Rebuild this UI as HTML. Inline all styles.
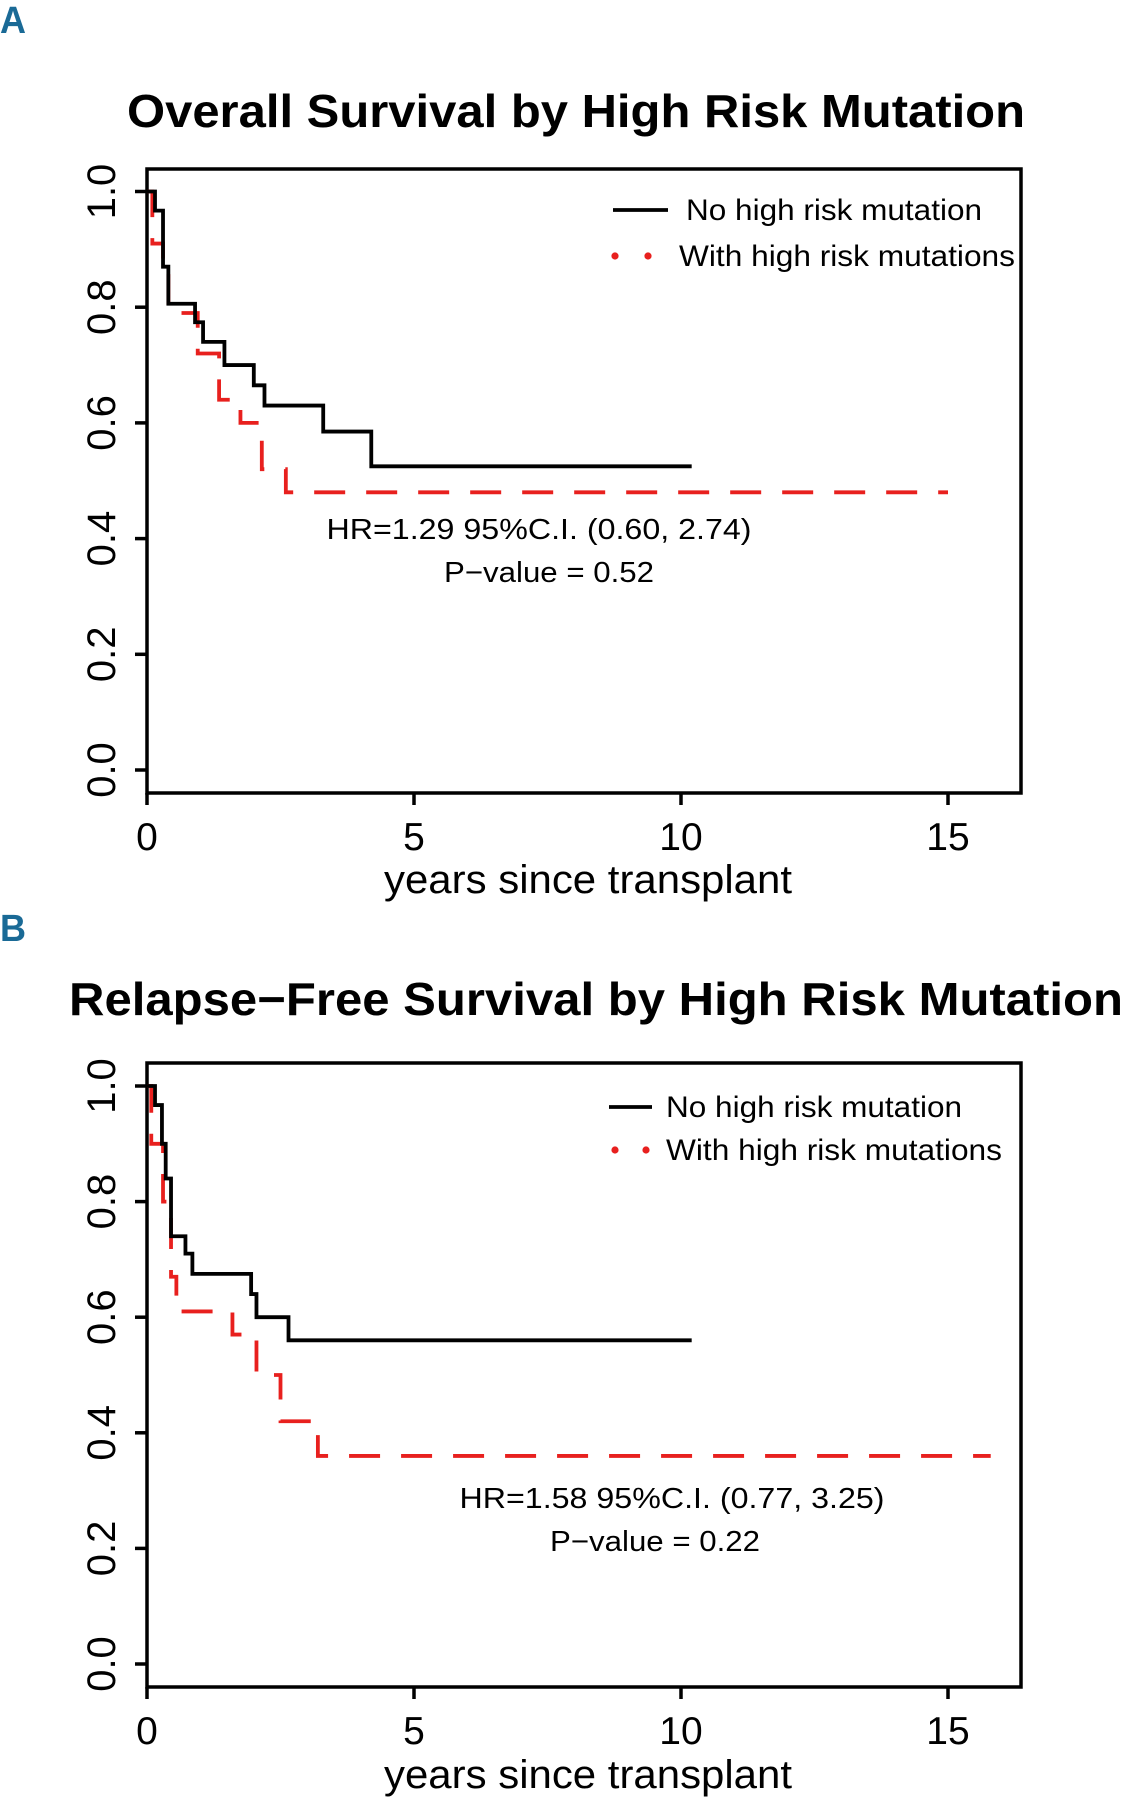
<!DOCTYPE html>
<html><head><meta charset="utf-8"><style>
body{margin:0;background:#fff;}
svg{display:block;font-family:"Liberation Sans",Arial,sans-serif;}
</style></head><body>
<svg id="fig" width="1124" height="1800" viewBox="0 0 1124 1800" xmlns="http://www.w3.org/2000/svg">
<text x="0" y="33" font-size="38" font-weight="bold" fill="#1a6a96" textLength="26" lengthAdjust="spacingAndGlyphs">A</text>
<text x="0" y="941" font-size="38" font-weight="bold" fill="#1a6a96" textLength="26" lengthAdjust="spacingAndGlyphs">B</text>
</svg>
<script>
const xTicks = [0, 5, 10, 15];
const yTicks = [0.0, 0.2, 0.4, 0.6, 0.8, 1.0];
const yTickLabels = ["0.0", "0.2", "0.4", "0.6", "0.8", "1.0"];
const osTimesNo = [0, 0.15, 0.3, 0.4, 0.9, 1.05, 1.45, 2.0, 2.2, 3.3, 4.2, 10.2];
const osSurvNo = [1, 0.967, 0.87, 0.806, 0.774, 0.74, 0.70, 0.665, 0.63, 0.585, 0.525, 0.525];
const osTimesHi = [0, 0.1, 0.3, 0.4, 0.95, 1.35, 1.75, 2.15, 2.6, 15];
const osSurvHi = [1, 0.91, 0.87, 0.79, 0.72, 0.64, 0.60, 0.52, 0.48, 0.48];
const rfsTimesNo = [0, 0.15, 0.28, 0.35, 0.45, 0.72, 0.85, 1.95, 2.05, 2.65, 10.2];
const rfsSurvNo = [1, 0.967, 0.90, 0.84, 0.74, 0.71, 0.675, 0.64, 0.60, 0.56, 0.56];
const rfsTimesHi = [0, 0.08, 0.3, 0.45, 0.55, 1.6, 2.05, 2.5, 3.2, 15.8];
const rfsSurvHi = [1, 0.90, 0.80, 0.67, 0.61, 0.57, 0.50, 0.42, 0.36, 0.36];

const NS = "http://www.w3.org/2000/svg";
const svg = document.getElementById("fig");
function mk(tag, attrs, parent, text) {
  const e = document.createElementNS(NS, tag);
  for (const k in attrs) e.setAttribute(k, attrs[k]);
  if (text !== undefined) e.textContent = text;
  (parent || svg).appendChild(e);
  return e;
}
function panel(cfg) {
  const g = mk("g", {});
  
  
  const L = 147, R = 1021, T = cfg.top, B = cfg.top + 624;
  const x0 = 147, xPer = 53.4;
  const xs = v => x0 + v * xPer;
  const y0 = cfg.y0, y1 = cfg.y1;
  const ys = v => y0 + (y1 - y0) * v;
  const title = mk("text", {x: cfg.titleX, y: cfg.titleY, "font-size": 46, "font-weight": "bold", "text-anchor": "middle", textLength: cfg.titleLen, lengthAdjust: "spacingAndGlyphs"}, g, cfg.title);
  
  
  const box = mk("rect", {x: L, y: T, width: R - L, height: B - T, fill: "none", stroke: "#000", "stroke-width": 3.5}, g);
  
  
  xTicks.forEach(t => {
    const tk = mk("line", {x1: xs(t), x2: xs(t), y1: B, y2: B + 12, stroke: "#000", "stroke-width": 3.5}, g);
    
    
    const lb = mk("text", {x: xs(t), y: B + 57, "font-size": 39, "text-anchor": "middle"}, g, String(t));
    
    
  });
  yTicks.forEach((t, i) => {
    const tk = mk("line", {x1: L - 12, x2: L, y1: ys(t), y2: ys(t), stroke: "#000", "stroke-width": 3.5}, g);
    
    
    const lb = mk("text", {x: 0, y: 0, "font-size": 40, "text-anchor": "middle", transform: `translate(115,${ys(t)}) rotate(-90)`}, g, yTickLabels[i]);
    
    
  });
  const xt = mk("text", {x: 588, y: cfg.xTitleY, "font-size": 40, "text-anchor": "middle", textLength: 408, lengthAdjust: "spacingAndGlyphs"}, g, "years since transplant");
  
  
  function step(ts, ss) {
    let d = `M${xs(ts[0])},${ys(ss[0])}`;
    for (let i = 1; i < ts.length; i++) {
      d += ` H${xs(ts[i])} V${ys(ss[i])}`;
    }
    return d;
  }
  const red = mk("path", {d: step(cfg.tHi, cfg.sHi), fill: "none", stroke: "#e8201e", "stroke-width": 3.8, "stroke-dasharray": "31 21"}, g);
  
  
  const blk = mk("path", {d: step(cfg.tNo, cfg.sNo), fill: "none", stroke: "#000", "stroke-width": 3.8}, g);
  
  
  const lg = cfg.legend;
  const l1 = mk("line", {x1: lg.lx1, x2: lg.lx2, y1: lg.y1, y2: lg.y1, stroke: "#000", "stroke-width": 3.8}, g);
  
  
  const t1 = mk("text", {x: lg.tx1, y: lg.y1 + 10, "font-size": 30, textLength: lg.len1, lengthAdjust: "spacingAndGlyphs"}, g, "No high risk mutation");
  
  
  [lg.d1, lg.d2].forEach(dx => {
    const c = mk("circle", {cx: dx, cy: lg.y2, r: 3.6, fill: "#e8201e"}, g);
    
    
  });
  const t2 = mk("text", {x: lg.tx2, y: lg.y2 + 10, "font-size": 30, textLength: lg.len2, lengthAdjust: "spacingAndGlyphs"}, g, "With high risk mutations");
  
  
  const hr = mk("text", {x: cfg.hrX, y: cfg.hrY, "font-size": 29, "text-anchor": "middle", textLength: 425, lengthAdjust: "spacingAndGlyphs", "xml:space": "preserve"}, g, cfg.hr);
  
  
  const pv = mk("text", {x: cfg.pX, y: cfg.hrY + 43, "font-size": 29, "text-anchor": "middle", textLength: 210, lengthAdjust: "spacingAndGlyphs"}, g, cfg.p);
  
  
}
panel({name: "overall-survival-chart", top: 169, y0: 770, y1: 191.5, title: "Overall Survival by High Risk Mutation", titleX: 576, titleY: 127, titleLen: 898,
  xTitleY: 893, tNo: osTimesNo, sNo: osSurvNo, tHi: osTimesHi, sHi: osSurvHi,
  legend: {lx1: 613, lx2: 668, y1: 210, tx1: 686, len1: 296, d1: 615, d2: 648, y2: 256, tx2: 679, len2: 336},
  hr: "HR=1.29  95%C.I. (0.60, 2.74)", hrX: 539, hrY: 539, p: "P\u2212value = 0.52", pX: 549});
panel({name: "relapse-free-survival-chart", top: 1063, y0: 1664, y1: 1086, title: "Relapse\u2212Free Survival by High Risk Mutation", titleX: 596, titleY: 1015, titleLen: 1054,
  xTitleY: 1788, tNo: rfsTimesNo, sNo: rfsSurvNo, tHi: rfsTimesHi, sHi: rfsSurvHi,
  legend: {lx1: 609, lx2: 652, y1: 1107, tx1: 666, len1: 296, d1: 615, d2: 646, y2: 1150, tx2: 666, len2: 336},
  hr: "HR=1.58  95%C.I. (0.77, 3.25)", hrX: 672, hrY: 1508, p: "P\u2212value = 0.22", pX: 655});
</script>
</body></html>
